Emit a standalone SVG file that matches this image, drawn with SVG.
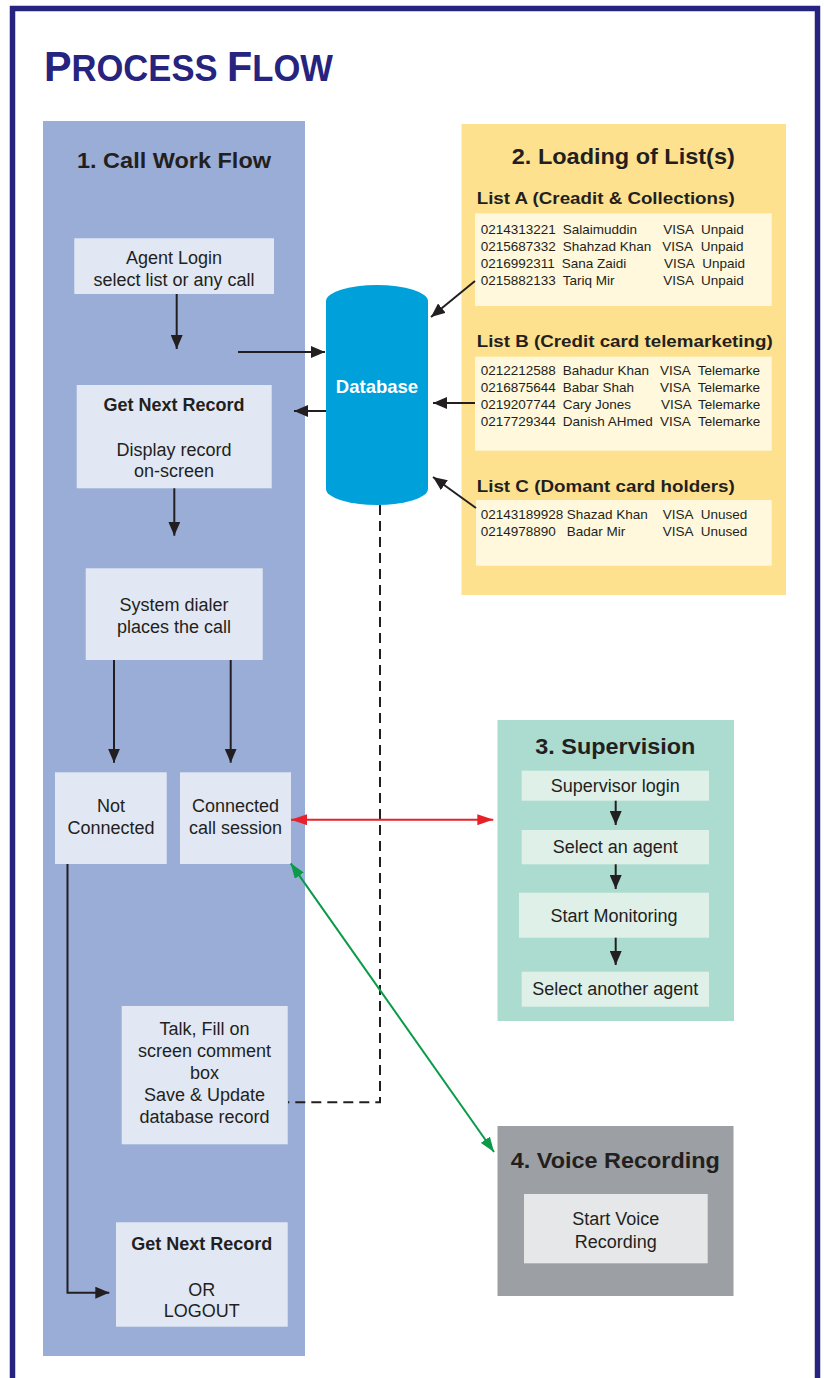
<svg xmlns="http://www.w3.org/2000/svg" width="824" height="1378" viewBox="0 0 824 1378">
<style>
text{font-family:"Liberation Sans",Arial,Helvetica,sans-serif;fill:#231f20}
.t{font-size:22px;font-weight:bold;text-anchor:middle}
.b{font-size:18px;text-anchor:middle}
.bb{font-size:18px;font-weight:bold;text-anchor:middle}
.lh{font-size:17px;font-weight:bold}
.r{font-size:13.5px}
.h{font-weight:bold;fill:#27247f}
.box{fill:#e1e8f4}
.sbox{fill:#dff0e9}
.tbl{fill:#fff8dc}
.ln{stroke:#231f20;stroke-width:2;fill:none}
</style>
<defs>
<marker id="ah" markerUnits="userSpaceOnUse" markerWidth="14" markerHeight="12" refX="14" refY="6" orient="auto"><path d="M0,0 L14,6 L0,12 Z" fill="#231f20"/></marker>
<marker id="ar" markerUnits="userSpaceOnUse" markerWidth="16" markerHeight="11" refX="16" refY="5.5" orient="auto-start-reverse"><path d="M0,0 L16,5.5 L0,11 Z" fill="#e8202a"/></marker>
<marker id="ag" markerUnits="userSpaceOnUse" markerWidth="15" markerHeight="11" refX="15" refY="5.5" orient="auto-start-reverse"><path d="M0,0 L15,5.5 L0,11 Z" fill="#0a9a48"/></marker>
</defs>
<rect x="0" y="0" width="824" height="1378" fill="#ffffff"/>
<rect x="12.5" y="8.5" width="805" height="1420" fill="none" stroke="#27247f" stroke-width="5.5"/>
<text class="h" x="44" y="81" textLength="173.5" lengthAdjust="spacingAndGlyphs"><tspan font-size="43">P</tspan><tspan font-size="36">ROCESS</tspan></text>
<text class="h" x="227" y="81" textLength="106" lengthAdjust="spacingAndGlyphs"><tspan font-size="43">F</tspan><tspan font-size="36">LOW</tspan></text>

<g id="panel-callflow">
<rect x="43" y="121" width="262" height="1235" fill="#99add7"/>
<text class="t" x="174" y="167.5" textLength="194" lengthAdjust="spacingAndGlyphs">1. Call Work Flow</text>
</g>
<g id="panel-lists">
<rect x="461.5" y="124" width="324.5" height="471" fill="#fee18f"/>
<text class="t" x="623.3" y="164.3" textLength="223" lengthAdjust="spacingAndGlyphs">2. Loading of List(s)</text>
</g>
<g id="panel-supervision">
<rect x="497.5" y="720" width="236.5" height="301" fill="#acdccf"/>
<text class="t" x="615.3" y="753.5" textLength="160" lengthAdjust="spacingAndGlyphs">3. Supervision</text>
</g>
<g id="panel-voice">
<rect x="497.5" y="1126" width="236" height="170" fill="#9c9fa3"/>
<text class="t" x="615.3" y="1168" textLength="209" lengthAdjust="spacingAndGlyphs">4. Voice Recording</text>
</g>

<g id="agent-login">
<rect class="box" x="74.3" y="238.3" width="199.7" height="55.7"/>
<text class="b" x="174" y="263.5">Agent Login</text>
<text class="b" x="174" y="285.5">select list or any call</text>
</g>
<g id="get-next-record">
<rect class="box" x="76.7" y="385" width="195" height="103.3"/>
<text class="bb" x="174" y="410.7">Get Next Record</text>
<text class="b" x="174" y="456">Display record</text>
<text class="b" x="174" y="477">on-screen</text>
</g>
<g id="system-dialer">
<rect class="box" x="85.7" y="568.3" width="177" height="91.7"/>
<text class="b" x="174" y="610.7">System dialer</text>
<text class="b" x="174" y="632.7">places the call</text>
</g>
<g id="not-connected">
<rect class="box" x="55" y="772.3" width="111.7" height="91.7"/>
<text class="b" x="111" y="812.3">Not</text>
<text class="b" x="111" y="834">Connected</text>
</g>
<g id="connected-session">
<rect class="box" x="180" y="772.3" width="111" height="91.7"/>
<text class="b" x="235.5" y="812.3">Connected</text>
<text class="b" x="235.5" y="834">call session</text>
</g>
<g id="talk-fill">
<rect class="box" x="121.7" y="1006" width="166" height="138.3"/>
<text class="b" x="204.5" y="1035">Talk, Fill on</text>
<text class="b" x="204.5" y="1056.7">screen comment</text>
<text class="b" x="204.5" y="1079">box</text>
<text class="b" x="204.5" y="1101">Save &amp; Update</text>
<text class="b" x="204.5" y="1122.7">database record</text>
</g>
<g id="get-next-or-logout">
<rect class="box" x="116" y="1222.3" width="171.7" height="104.4"/>
<text class="bb" x="201.7" y="1250">Get Next Record</text>
<text class="b" x="201.7" y="1295.7">OR</text>
<text class="b" x="201.7" y="1316.7">LOGOUT</text>
</g>

<g id="database">
<path d="M326,301 A51,16 0 0 1 428,301 L428,489 A51,16 0 0 1 326,489 Z" fill="#00a0db"/>
<text x="377" y="392.7" font-size="18.5" font-weight="bold" text-anchor="middle" style="fill:#ffffff">Database</text>
</g>

<g id="list-a">
<text class="lh" x="476.7" y="204.3" textLength="258" lengthAdjust="spacingAndGlyphs">List A (Creadit &amp; Collections)</text>
<rect class="tbl" x="475" y="213.3" width="296.7" height="92.7"/>
<text class="r" y="234"><tspan x="480.7">0214313221</tspan><tspan x="562.7">Salaimuddin</tspan><tspan x="663.3">VISA</tspan><tspan x="701">Unpaid</tspan></text>
<text class="r" y="251"><tspan x="480.7">0215687332</tspan><tspan x="562.7">Shahzad Khan</tspan><tspan x="662.3">VISA</tspan><tspan x="700.7">Unpaid</tspan></text>
<text class="r" y="268"><tspan x="480.7">0216992311</tspan><tspan x="561.7">Sana Zaidi</tspan><tspan x="664">VISA</tspan><tspan x="702.3">Unpaid</tspan></text>
<text class="r" y="285"><tspan x="480.7">0215882133</tspan><tspan x="562.7">Tariq Mir</tspan><tspan x="663.3">VISA</tspan><tspan x="701">Unpaid</tspan></text>
</g>
<g id="list-b">
<text class="lh" x="476.7" y="347.3" textLength="296" lengthAdjust="spacingAndGlyphs">List B (Credit card telemarketing)</text>
<rect class="tbl" x="475" y="356.7" width="296.7" height="94"/>
<text class="r" y="375"><tspan x="480.7">0212212588</tspan><tspan x="562.7">Bahadur Khan</tspan><tspan x="660">VISA</tspan><tspan x="697.7">Telemarke</tspan></text>
<text class="r" y="392.3"><tspan x="480.7">0216875644</tspan><tspan x="562.7">Babar Shah</tspan><tspan x="660">VISA</tspan><tspan x="697.7">Telemarke</tspan></text>
<text class="r" y="409.3"><tspan x="480.7">0219207744</tspan><tspan x="562.7">Cary Jones</tspan><tspan x="661">VISA</tspan><tspan x="698">Telemarke</tspan></text>
<text class="r" y="426"><tspan x="480.7">0217729344</tspan><tspan x="562.7">Danish AHmed</tspan><tspan x="660">VISA</tspan><tspan x="698">Telemarke</tspan></text>
</g>
<g id="list-c">
<text class="lh" x="476.7" y="491.7" textLength="258" lengthAdjust="spacingAndGlyphs">List C (Domant card holders)</text>
<rect class="tbl" x="476" y="500" width="295.7" height="65.7"/>
<text class="r" y="519"><tspan x="480.7">02143189928</tspan><tspan x="566.7">Shazad Khan</tspan><tspan x="662.7">VISA</tspan><tspan x="700.7">Unused</tspan></text>
<text class="r" y="536"><tspan x="480.7">0214978890</tspan><tspan x="566.7">Badar Mir</tspan><tspan x="662.7">VISA</tspan><tspan x="700.7">Unused</tspan></text>
</g>

<g id="supervisor-login">
<rect class="sbox" x="521.7" y="770.7" width="187.3" height="30"/>
<text class="b" x="615.3" y="791.7">Supervisor login</text>
</g>
<g id="select-agent">
<rect class="sbox" x="521.7" y="830" width="187.3" height="34.3"/>
<text class="b" x="615.3" y="852.7">Select an agent</text>
</g>
<g id="start-monitoring">
<rect class="sbox" x="519" y="892.7" width="190" height="45"/>
<text class="b" x="614" y="921.7">Start Monitoring</text>
</g>
<g id="select-another">
<rect class="sbox" x="521.7" y="971.7" width="187.3" height="35"/>
<text class="b" x="615.3" y="995">Select another agent</text>
</g>
<g id="start-voice">
<rect x="524" y="1194" width="183.7" height="69.3" fill="#e6e7e9"/>
<text class="b" x="615.7" y="1225">Start Voice</text>
<text class="b" x="615.7" y="1247.7">Recording</text>
</g>

<g id="connectors">
<line class="ln" x1="176.7" y1="294" x2="176.7" y2="349" marker-end="url(#ah)"/>
<line class="ln" x1="238" y1="352" x2="325" y2="352" marker-end="url(#ah)"/>
<line class="ln" x1="326" y1="411" x2="294" y2="411" marker-end="url(#ah)"/>
<line class="ln" x1="475" y1="281" x2="431" y2="317" marker-end="url(#ah)"/>
<line class="ln" x1="475" y1="403" x2="433" y2="403" marker-end="url(#ah)"/>
<line class="ln" x1="476" y1="508" x2="433" y2="477" marker-end="url(#ah)"/>
<line class="ln" x1="174.3" y1="488.3" x2="174.3" y2="535.7" marker-end="url(#ah)"/>
<line class="ln" x1="114" y1="660" x2="114" y2="762.7" marker-end="url(#ah)"/>
<line class="ln" x1="230.7" y1="660" x2="230.7" y2="762.7" marker-end="url(#ah)"/>
<path class="ln" d="M67.5,864 L67.5,1292.7 L109.3,1292.7" marker-end="url(#ah)"/>
<path class="ln" d="M380,505 L380,1102.3 L288,1102.3" stroke-dasharray="10,6"/>
<line x1="291" y1="819.7" x2="493.3" y2="819.7" stroke="#e8202a" stroke-width="2" marker-start="url(#ar)" marker-end="url(#ar)"/>
<line x1="290.7" y1="863.3" x2="494" y2="1152" stroke="#0a9a48" stroke-width="2" marker-start="url(#ag)" marker-end="url(#ag)"/>
<line class="ln" x1="615.7" y1="800.7" x2="615.7" y2="825" marker-end="url(#ah)"/>
<line class="ln" x1="615.7" y1="864.3" x2="615.7" y2="889" marker-end="url(#ah)"/>
<line class="ln" x1="615.7" y1="937.7" x2="615.7" y2="965" marker-end="url(#ah)"/>
</g>
</svg>
